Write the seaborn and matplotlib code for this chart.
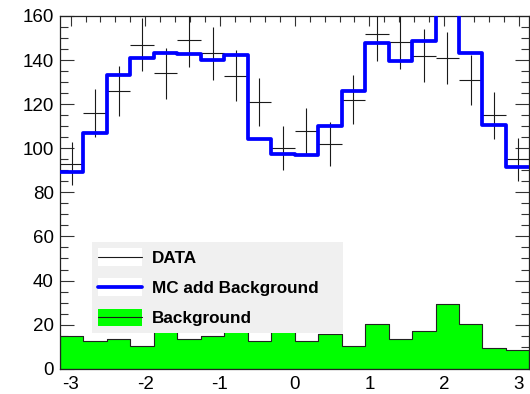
import numpy as np
import pandas as pd
import matplotlib
matplotlib.use("Agg")
import matplotlib.pyplot as plt
from matplotlib.ticker import MultipleLocator
from matplotlib.patches import Rectangle
from matplotlib.lines import Line2D
from matplotlib.legend_handler import HandlerBase
import seaborn as sns

# 20 bins spanning (-pi, pi)
n_bins = 20
bin_edges = np.linspace(-np.pi, np.pi, n_bins + 1)
bin_centers = 0.5 * (bin_edges[:-1] + bin_edges[1:])
half_width = 0.5 * (bin_edges[1] - bin_edges[0])

data_counts = [93, 116, 126, 147, 134, 149, 143, 133, 121, 100,
               108, 102, 122, 152, 148, 142, 141, 131, 115, 95]
mc_plus_background = [89.1, 107.1, 133.1, 141.0, 143.2, 142.9, 139.9, 142.2, 104.2, 97.6,
                      97.0, 110.3, 125.9, 147.6, 139.6, 148.7, 170.0, 143.4, 110.6, 91.7]
background = [14.8, 12.6, 13.6, 10.4, 18.0, 13.6, 14.8, 17.0, 12.6, 19.0,
              12.6, 15.7, 10.4, 20.1, 13.6, 17.0, 29.4, 20.1, 9.4, 8.3]

legend_labels = ["DATA", "MC add Background", "Background"]

hists = pd.DataFrame({
    "phi": bin_centers,
    "data": data_counts,
    "mc": mc_plus_background,
    "bkg": background,
})

sns.set_style("ticks")
plt.rcParams["font.family"] = ["Liberation Sans", "DejaVu Sans"]
plt.rcParams["axes.unicode_minus"] = False
plt.rcParams["text.color"] = "black"

fig = plt.figure(figsize=(5.3, 3.94), dpi=100)
ax = fig.add_axes([0.1132, 0.0642, 0.8857, 0.8952])
ax.set_axisbelow(True)

edges = list(bin_edges)

# background histogram, filled green with a thin dark outline
sns.histplot(data=hists, x="phi", weights="bkg", bins=edges, element="step",
             fill=True, color="#00ff00", alpha=1, edgecolor="#222222",
             linewidth=0.8, ax=ax, zorder=1.5)

# data points with Poisson errors
ax.errorbar(hists["phi"], hists["data"], xerr=half_width, yerr=np.sqrt(hists["data"]),
            fmt="none", ecolor="#1a1a1a", elinewidth=0.8, capsize=0, zorder=2)

# MC + background step line
sns.histplot(data=hists, x="phi", weights="mc", bins=edges, element="step",
             fill=False, color="#0000ff", linewidth=2.7, ax=ax, zorder=3)

ax.set_xlim(-np.pi, np.pi)
ax.set_ylim(0, 160)
ax.set_xlabel("")
ax.set_ylabel("")

ax.xaxis.set_major_locator(MultipleLocator(1))
ax.xaxis.set_minor_locator(MultipleLocator(0.2))
ax.yaxis.set_major_locator(MultipleLocator(20))
ax.yaxis.set_minor_locator(MultipleLocator(5))

ax.tick_params(which="both", direction="in", top=True, right=True,
               color="#333333", width=0.8, labelsize=13.5, labelcolor="black")
ax.tick_params(axis="y", which="major", length=10, pad=4.5)
ax.tick_params(axis="y", which="minor", length=6)
ax.tick_params(axis="x", which="major", length=7, pad=5)
ax.tick_params(axis="x", which="minor", length=4)

for side in ["left", "right", "top", "bottom"]:
    ax.spines[side].set_color("#222222")
    ax.spines[side].set_linewidth(0.9)


class SampleBox(HandlerBase):
    """Legend key: a filled box with a horizontal line through its middle."""

    def __init__(self, face, line_color, line_width):
        super().__init__()
        self.face = face
        self.line_color = line_color
        self.line_width = line_width

    def create_artists(self, legend, orig_handle, xdescent, ydescent,
                       width, height, fontsize, trans):
        x0, y0 = -xdescent, -ydescent
        box = Rectangle((x0, y0), width, height, facecolor=self.face,
                        edgecolor="none", transform=trans)
        line = Line2D([x0, x0 + width], [y0 + height / 2] * 2,
                      color=self.line_color, linewidth=self.line_width,
                      transform=trans)
        return [box, line]


h_data = Line2D([], [], color="black")
h_mc = Line2D([], [], color="#0000ff")
h_bkg = Line2D([], [], color="#00ff00")
handler_map = {
    h_data: SampleBox("white", "#1a1a1a", 0.8),
    h_mc: SampleBox("white", "#0000ff", 2.7),
    h_bkg: SampleBox("#00ff00", "#1a1a1a", 0.8),
}

leg = ax.legend([h_data, h_mc, h_bkg], legend_labels, handler_map=handler_map,
                loc="lower left", bbox_to_anchor=(0.0682, 0.1021, 0.5347, 0.2563),
                mode="expand", borderaxespad=0, borderpad=0.374,
                handlelength=2.57, handleheight=1.215, handletextpad=0.56,
                labelspacing=0.73, fancybox=False, framealpha=1,
                facecolor="#f0f0f0", edgecolor="none", labelcolor="black",
                prop={"weight": "bold", "size": 12.3})
leg.set_zorder(5)

fig.savefig("out.png", dpi=100)
